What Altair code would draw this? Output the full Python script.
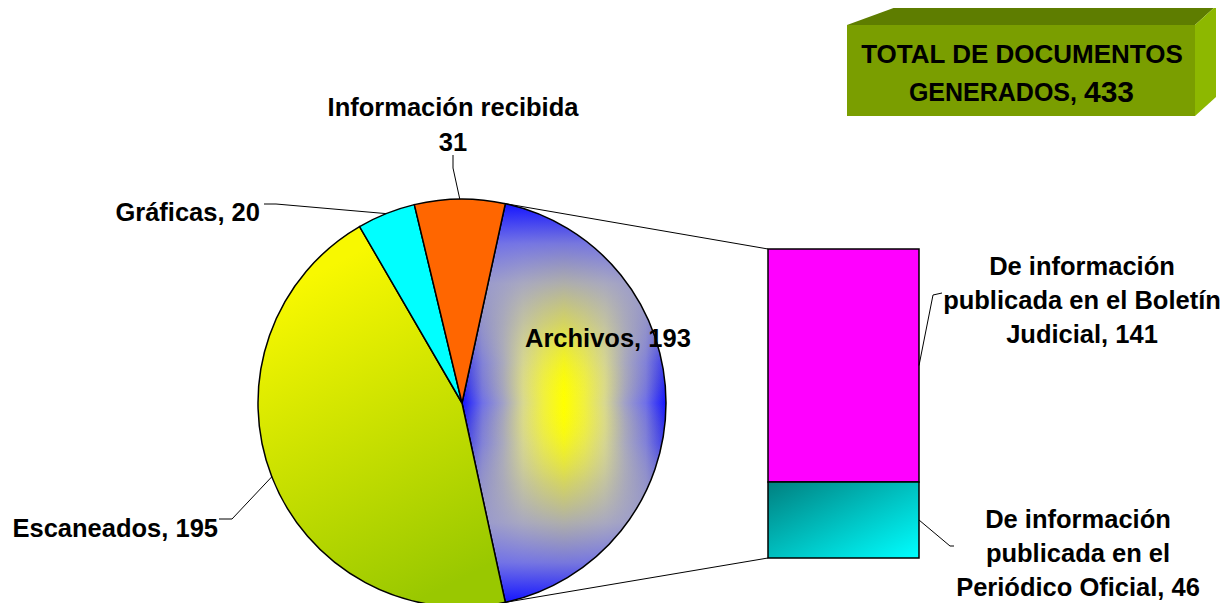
import math
import altair as alt
import pandas as pd

# ---------------- data ----------------
pie_categories = ["Archivos", "Escaneados", "Gráficas", "Información recibida"]
pie_values = [193, 195, 20, 31]
bar_categories = ["De información\npublicada en el Boletín\nJudicial",
                  "De información\npublicada en el\nPeriódico Oficial"]
bar_values = [141, 46]
total_lines = ["TOTAL DE DOCUMENTOS", "GENERADOS,"]
total_value = 433

# ---------------- layout (reference pixel space) ----------------
PAGE = 8
W, H = 1215, 595
CX, CY, R = 462, 403, 204
BAR_X0, BAR_X1 = 768, 919
BAR_TOP, BAR_BOTTOM = 249, 558
FONT = "Liberation Sans"
FS = 25.5

XS = alt.Scale(domain=[PAGE, PAGE + W], range=[0, W])
YS = alt.Scale(domain=[PAGE, PAGE + H], range=[0, H])


def X(f):
    return alt.X(f, type="quantitative", scale=XS, axis=None)


def Y(f):
    return alt.Y(f, type="quantitative", scale=YS, axis=None)


# pie-of-bar geometry: the "Archivos" slice is drawn as the sum of the bar segments
other = sum(bar_values)
slice_sizes = [other] + pie_values[1:]
total = sum(slice_sizes)
a0 = math.radians(90 - other / total * 180)
THS = alt.Scale(domain=[0, total], range=[a0, a0 + 2 * math.pi])

pie_df = pd.DataFrame({"cat": pie_categories, "value": pie_values, "size": slice_sizes})
pie_df["s1"] = pie_df["size"].cumsum()
pie_df["s0"] = pie_df["s1"] - pie_df["size"]


def on_circle(v):
    a = a0 + v / total * 2 * math.pi
    return CX + R * math.sin(a), CY - R * math.cos(a)


def bar_y(v):
    return BAR_BOTTOM - v / other * (BAR_BOTTOM - BAR_TOP)


# bar: Periódico at the bottom, Boletín on top
bar_df = pd.DataFrame({"cat": bar_categories, "value": bar_values})
bar_df["b0"] = [bar_values[1], 0]
bar_df["b1"] = [bar_values[1] + bar_values[0], bar_values[1]]
BYS = alt.Scale(domain=[0, other], range=[BAR_BOTTOM - PAGE, BAR_TOP - PAGE])


def mid_slice(i):
    r = pie_df.iloc[i]
    return on_circle((r.s0 + r.s1) / 2)


def mid_bar(i):
    r = bar_df.iloc[i]
    return BAR_X1, bar_y((r.b0 + r.b1) / 2)


# ---------------- gradients ----------------
def lin(x1, y1, x2, y2, stops):
    return {"gradient": "linear", "x1": x1, "y1": y1, "x2": x2, "y2": y2,
            "stops": [{"offset": o, "color": c} for o, c in stops]}


def mirror(stops):
    out = list(stops)
    for o, c in reversed(stops[:-1]):
        out.append((round(1 - o, 3), c))
    return out


blue_h = lin(0, 0, 1, 0, mirror([(0, "#1414FF"), (0.1, "#7070E8"), (0.2, "#A0A0C8"),
                                 (0.3, "#D8D890"), (0.4, "#F0F040"), (0.5, "#FFFF00")]))
blue_v = lin(0, 0, 0, 1, mirror([(0, "rgba(20,20,255,1)"), (0.1, "rgba(112,112,232,0.95)"),
                                 (0.2, "rgba(160,160,200,0.85)"), (0.3, "rgba(176,176,176,0.55)"),
                                 (0.4, "rgba(200,200,150,0.2)"), (0.5, "rgba(255,255,0,0)")]))
yellow_g = lin(0.3, 0.1, 0.6, 1, [(0, "#F8F800"), (1, "#99C800")])
teal_g = lin(0, 0, 1, 1, [(0, "#008080"), (1, "#00FFFF")])


def arc(cat, fill, stroke=True):
    kw = dict(radius=R, fill=fill)
    if stroke:
        kw.update(stroke="black", strokeWidth=1.5)
    else:
        kw.update(strokeWidth=0)
    return alt.Chart(pie_df).transform_filter(alt.datum.cat == cat).mark_arc(**kw).encode(
        theta=alt.Theta("s0:Q", scale=THS, stack=None),
        theta2="s1:Q",
        x=alt.value(CX - PAGE),
        y=alt.value(CY - PAGE),
    )


layers = []

# total box (3D)
box_front = pd.DataFrame({"x": [847], "x2": [1195], "y": [25], "y2": [116]})
box_top = pd.DataFrame({"x": [847, 899, 1195, 1216], "y": [25, 6, 6, 6], "y2": [25, 25, 25, 6]})
box_right = pd.DataFrame({"y": [6, 25, 97, 116], "x": [1216, 1195, 1195, 1195], "x2": [1216, 1216, 1216, 1195]})
layers.append(alt.Chart(box_top).mark_area(color="#5E7D00").encode(x=X("x"), y=Y("y"), y2="y2"))
layers.append(alt.Chart(box_right).mark_area(color="#8DB800", orient="horizontal").encode(y=Y("y"), x=X("x"), x2="x2"))
layers.append(alt.Chart(box_front).mark_rect(color="#7A9E00").encode(x=X("x"), x2="x2", y=Y("y"), y2="y2"))

box_text = pd.DataFrame({"t": [total_lines[0]], "x": [1022], "y": [55]})
layers.append(alt.Chart(box_text).mark_text(font=FONT, fontSize=26, fontWeight="bold", align="center", color="black")
              .encode(x=X("x"), y=Y("y"), text="t:N"))
box_text2 = pd.DataFrame({"t": [total_lines[1]], "x": [1077], "y": [93]})
layers.append(alt.Chart(box_text2).mark_text(font=FONT, fontSize=25, fontWeight="bold", align="right", color="black")
              .encode(x=X("x"), y=Y("y"), text="t:N"))
box_text3 = pd.DataFrame({"t": [str(total_value)], "x": [1084], "y": [93]})
layers.append(alt.Chart(box_text3).mark_text(font=FONT, fontSize=30, fontWeight="bold", align="left", color="black")
              .encode(x=X("x"), y=Y("y"), text="t:N"))

# series lines (pie to bar)
p_start = on_circle(0)
p_end = on_circle(other)
series_df = pd.DataFrame({
    "x": [p_start[0], p_end[0]], "y": [p_start[1], p_end[1]],
    "x2": [BAR_X0, BAR_X0], "y2": [bar_y(other), bar_y(0)],
})
layers.append(alt.Chart(series_df).mark_rule(color="black", strokeWidth=1)
              .encode(x=X("x"), y=Y("y"), x2="x2", y2="y2"))

# pie
layers.append(arc("Archivos", blue_h, stroke=False))
layers.append(arc("Archivos", blue_v, stroke=True))
layers.append(arc("Escaneados", yellow_g))
layers.append(arc("Gráficas", "#00FFFF"))
layers.append(arc("Información recibida", "#FF6600"))

# bar
layers.append(alt.Chart(bar_df).transform_filter(alt.datum.b0 > 0).mark_rect(fill="#FF00FF", stroke="black", strokeWidth=1.5)
              .encode(x=alt.value(BAR_X0 - PAGE), x2=alt.value(BAR_X1 - PAGE),
                      y=alt.Y("b0:Q", scale=BYS, axis=None), y2="b1:Q"))
layers.append(alt.Chart(bar_df).transform_filter(alt.datum.b0 == 0).mark_rect(fill=teal_g, stroke="black", strokeWidth=1.5)
              .encode(x=alt.value(BAR_X0 - PAGE), x2=alt.value(BAR_X1 - PAGE),
                      y=alt.Y("b0:Q", scale=BYS, axis=None), y2="b1:Q"))

# leader lines: label-side elbows (layout) + data-derived anchors
leaders = {
    "Escaneados": [(219, 519), (232, 519), mid_slice(1)],
    "Gráficas": [(264, 204), (276, 204), mid_slice(2)],
    "Información recibida": [(453, 155), (453, 168), mid_slice(3)],
    "Boletín": [(942, 293), (933, 295), mid_bar(0)],
    "Periódico": [(954, 546), (950, 546), mid_bar(1)],
}
rows = []
for k, pts in leaders.items():
    for i, (px, py) in enumerate(pts):
        rows.append({"id": k, "o": i, "x": px, "y": py})
lead_df = pd.DataFrame(rows)
layers.append(alt.Chart(lead_df).mark_line(color="black", strokeWidth=1)
              .encode(x=X("x"), y=Y("y"), detail="id:N", order="o:Q"))

# labels
lbl_left = pd.DataFrame({"t": [f"{pie_categories[0]}, {pie_values[0]}"], "x": [525], "y": [339]})
lbl_right = pd.DataFrame({"t": [f"{pie_categories[1]}, {pie_values[1]}", f"{pie_categories[2]}, {pie_values[2]}"],
                          "x": [218, 260], "y": [529, 213]})
lbl_info = pd.DataFrame({"t": [f"{pie_categories[3]}\n{pie_values[3]}"], "x": [453], "y": [108]})
lbl_bar = pd.DataFrame({"t": [f"{c}, {v}" for c, v in zip(bar_categories, bar_values)],
                        "x": [1082, 1078], "y": [267, 520]})

for d, al, lh in [(lbl_left, "left", 34), (lbl_right, "right", 34), (lbl_info, "center", 35), (lbl_bar, "center", 34)]:
    layers.append(alt.Chart(d).mark_text(font=FONT, fontSize=FS, fontWeight="bold", align=al, color="black",
                                         lineBreak="\n", lineHeight=lh)
                  .encode(x=X("x"), y=Y("y"), text="t:N"))

chart = (alt.layer(*layers)
         .resolve_scale(y="independent")
         .properties(width=W, height=H, padding=0, autosize="none", background="white")
         .configure_view(stroke=None))

chart.save("out.html", embed_options={"renderer": "svg", "actions": False})
